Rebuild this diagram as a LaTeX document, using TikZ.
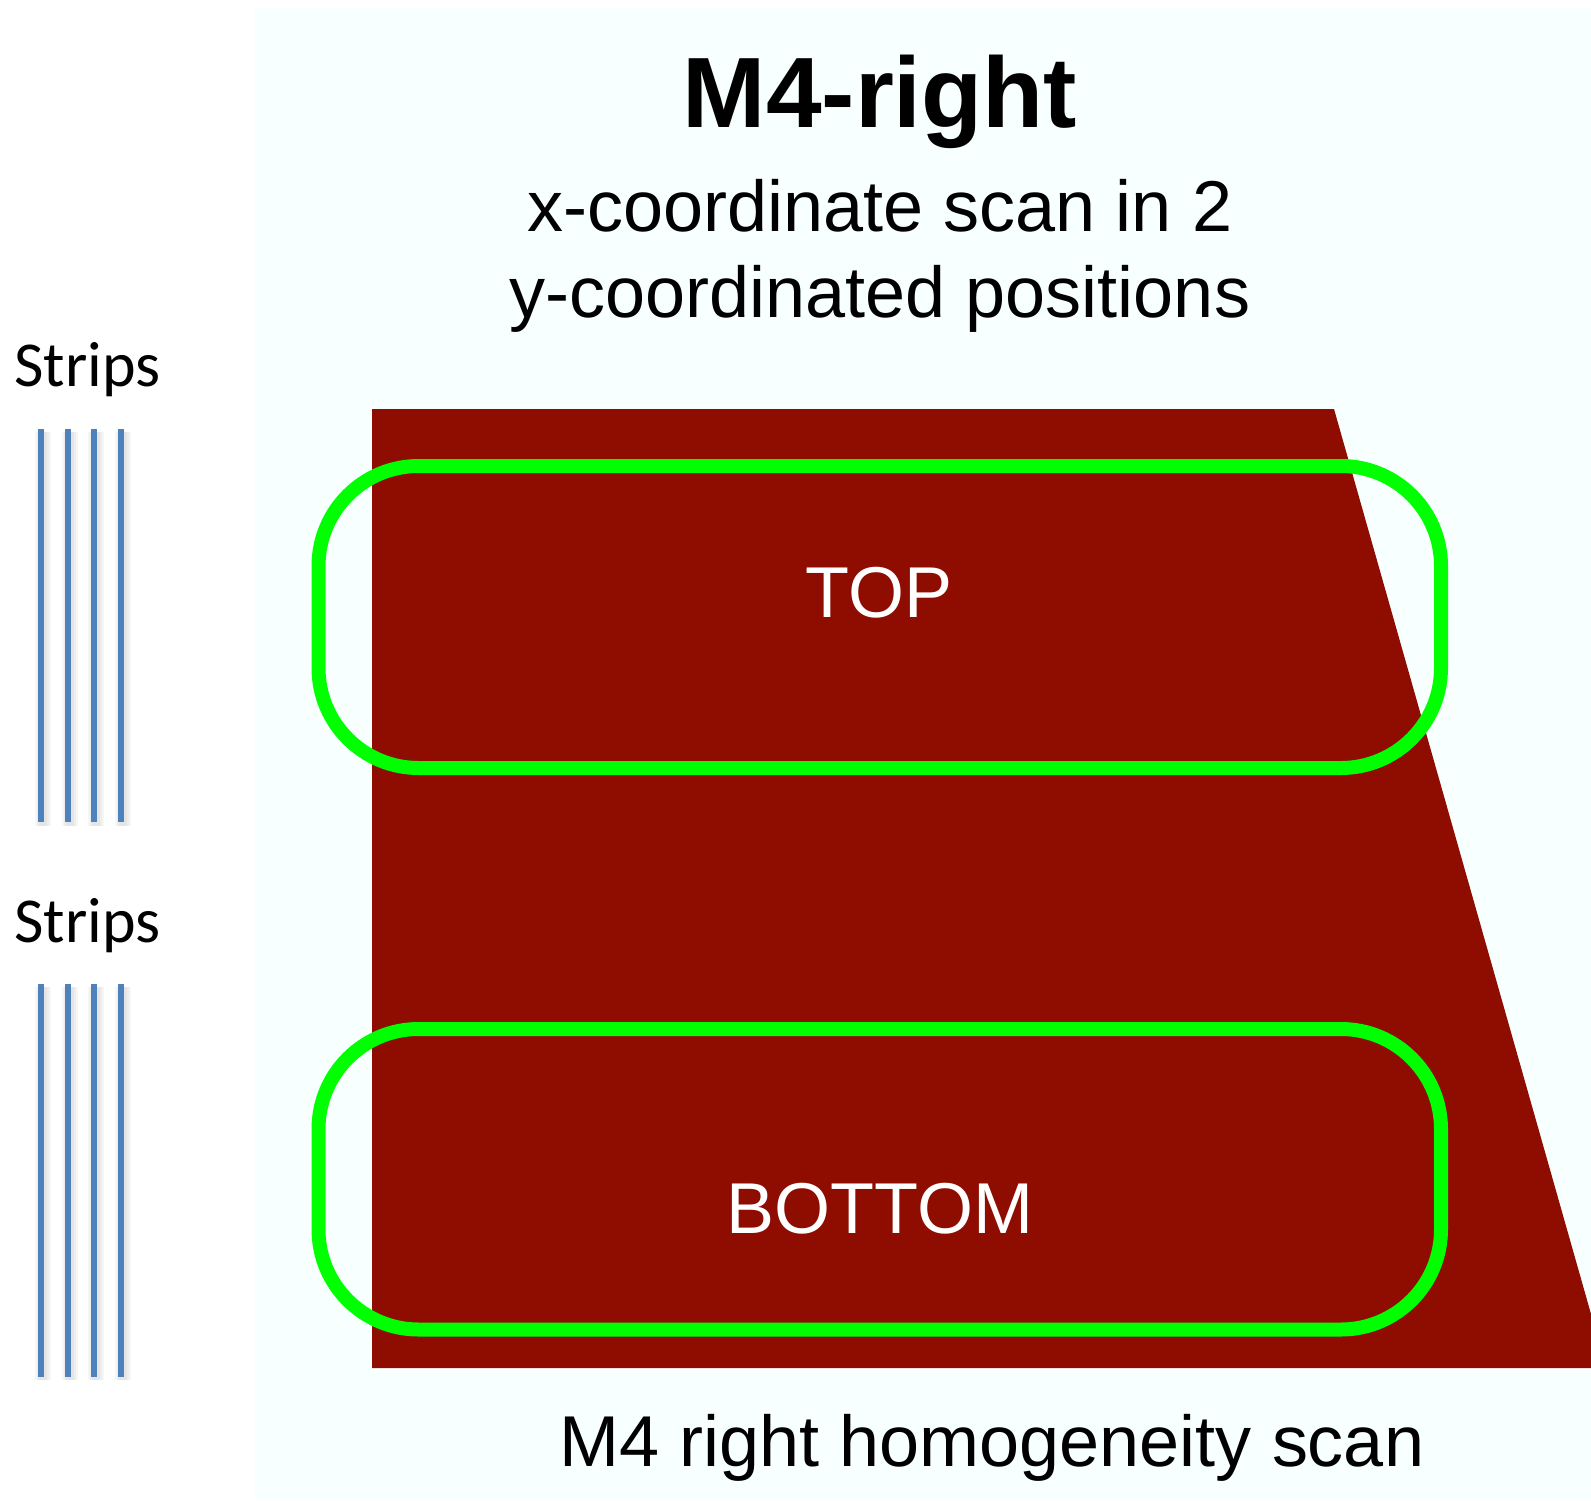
\documentclass[tikz,border=0pt]{standalone}
\usepackage{fontspec}
\setmainfont{Liberation Sans}
\newfontfamily\stripfont{Carlito}
\definecolor{panel}{RGB}{247,255,255}
\definecolor{chamber}{RGB}{142,13,0}
\definecolor{scangreen}{RGB}{0,255,0}
\definecolor{stripblue}{RGB}{79,129,189}
\begin{document}
\begin{tikzpicture}[x=0.5pt, y=-0.5pt,
	scanbox/.style={draw=scangreen, line width=7pt, rounded corners=50pt},
	strip/.style={draw=stripblue, line width=3pt},
	stripshadow/.style={draw=black, opacity=0.035, line width=#1},
	label/.style={anchor=base, inner sep=0pt, font=\fontsize{36}{43}\selectfont},
	striplabel/.style={anchor=base west, inner sep=0pt, font=\stripfont\fontsize{32}{38}\selectfont}
]
	\useasboundingbox (0,0) rectangle (1591,1500);

	% Background panel and chamber
	\fill[panel] (255,8) rectangle (1591,1500);
	\fill[chamber] (372,409) -- (1334,409) -- (1591,1314) -- (1591,1368) -- (372,1368) -- cycle;

	% Scan regions
	\draw[scanbox] (318.5,466) rectangle (1441,768);
	\draw[scanbox] (318.5,1029) rectangle (1441,1329.5);

	% Titles
	\node[anchor=base, inner sep=0pt, font=\bfseries\fontsize{50}{58}\selectfont] (title) at (880,127) {M4-right};
	\node[label] (sub1) at (880,231) {x-coordinate scan in 2};
	\node[label] (sub2) at (880,317) {y-coordinated positions};

	% Region labels
	\node[label, text=white] (top) at (879,617) {TOP};
	\node[label, text=white] (bottom) at (880,1233) {BOTTOM};
	\node[label] (caption) at (992,1466) {M4 right homogeneity scan};

	% Strips
	\node[striplabel] (strips1) at (14,386) {Strips};
	\node[striplabel] (strips2) at (14,942) {Strips};
	\foreach \x in {41,68,94,121} {
		\foreach \w in {4pt,6pt,8pt} {
			\draw[stripshadow=\w] (\x+2,432) -- (\x+2,826);
			\draw[stripshadow=\w] (\x+2,987) -- (\x+2,1380);
		}
		\draw[strip] (\x,429) -- (\x,822);
		\draw[strip] (\x,984) -- (\x,1377);
	}
\end{tikzpicture}
\end{document}
